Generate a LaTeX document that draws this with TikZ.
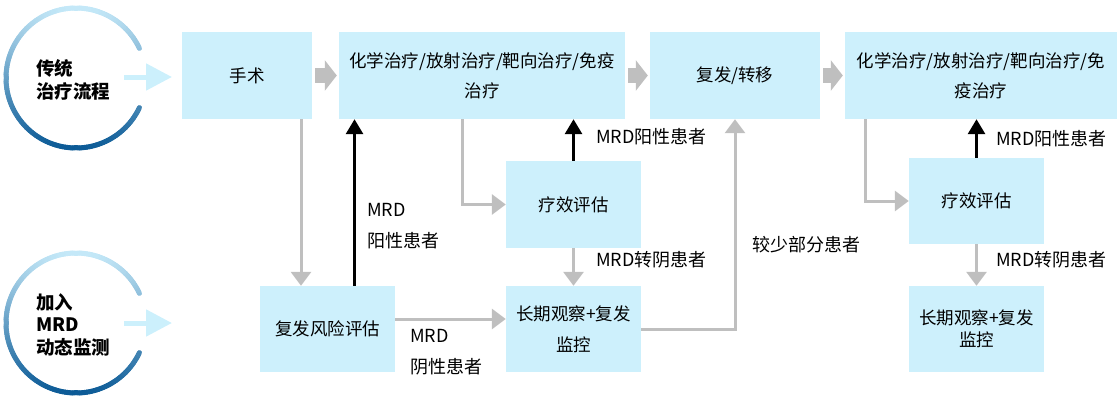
\documentclass[tikz,border=0pt]{standalone}
\usepackage{fontspec}
\setmainfont{Noto Sans CJK SC}
\usepackage[HTML]{xcolor}
\usepackage{tikz}
\usetikzlibrary{positioning, arrows.meta}
\definecolor{boxcyan}{HTML}{CDF0FC}
\definecolor{flowgray}{HTML}{BFBFBF}
\definecolor{ringlight}{HTML}{C4E8F8}
\definecolor{ringdark}{HTML}{0B5A96}
\definecolor{inarrow}{HTML}{CCF0FC}

\begin{document}
\begin{tikzpicture}[x=1pt,y=-1pt,
box/.style={fill=boxcyan,minimum width=135pt,minimum height=86pt,inner sep=0pt,align=center,font=\fontsize{17.5}{30}\selectfont},
grayflow/.style={flowgray,line width=3pt,-{Triangle[width=20pt,length=14pt]}},
blackflow/.style={black,line width=3pt,-{Triangle[width=17pt,length=15pt]}},
blockarrow/.style={flowgray,line width=15pt,-{Triangle[width=30pt,length=12pt]},shorten <=3pt,shorten >=2pt},
inflow/.style={inarrow,line width=5pt,-{Triangle[width=26pt,length=26pt]}},
lbl/.style={anchor=west,align=left,inner sep=0pt,font=\fontsize{18}{31}\selectfont},
ringtext/.style={anchor=west,align=left,inner sep=0pt,font=\fontsize{18.5}{23}\selectfont\bfseries}]
\useasboundingbox (0,0) rectangle (1118,396);
\foreach \cy in {78,323}{
\foreach \a in {25,27,...,333}{
\pgfmathtruncatemacro\p{50-50*sin(\a+1)}
\draw[ringdark!\p!ringlight,line width=5pt,line cap=round] ({76+70*cos(\a)},{\cy-70*sin(\a)})--({76+70*cos(\a+2)},{\cy-70*sin(\a+2)});
}
}
\node[ringtext] (tradText) at (36,79.5) {传统\\治疗流程};
\node[ringtext,font=\fontsize{18.5}{22.5}\selectfont\bfseries] (mrdText) at (36,324.5) {加入\\MRD\\动态监测};
\coordinate (tradIn) at (124,77);
\coordinate (tradOut) at (172,77);
\coordinate (mrdIn) at (124,323);
\coordinate (mrdOut) at (172,323);
\draw[inflow] (tradIn)--(tradOut);
\draw[inflow] (mrdIn)--(mrdOut);

\node[box,minimum width=130pt,minimum height=87pt] (surg) at (247,75.5) {手术};
\node[box,minimum width=286pt,minimum height=87pt] (chemoA) at (482,75.5) {化学治疗/放射治疗/靶向治疗/免疫\\治疗};
\node[box,minimum width=170pt,minimum height=87pt] (relapse) at (735,75.5) {复发/转移};
\node[box,minimum width=272pt,minimum height=87pt] (chemoB) at (981,75.5) {化学治疗/放射治疗/靶向治疗/免\\疫治疗};
\node[box] (risk) at (327.5,329) {复发风险评估};
\node[box,minimum height=87pt] (evalA) at (573.5,204.5) {疗效评估};
\node[box,font=\fontsize{17.5}{31}\selectfont] (watchA) at (573.5,329) {长期观察+复发\\监控};
\node[box] (evalB) at (976.5,201) {疗效评估};
\node[box,font=\fontsize{17.5}{22}\selectfont] (watchB) at (976.5,329) {长期观察+复发\\监控};

\draw[blockarrow] (surg)--(chemoA);
\draw[blockarrow] (chemoA)--(relapse);
\draw[blockarrow] (relapse)--(chemoB);
\draw[grayflow] ([xshift=54pt]surg.south)--([xshift=54pt]surg.south |- risk.north);
\draw[blackflow] ([xshift=27pt]risk.north)--([xshift=27pt]risk.north |- chemoA.south);
\draw[grayflow] ([xshift=-20pt]chemoA.south) |- (evalA.west);
\draw[blackflow] (evalA.north)--(evalA.north |- chemoA.south);
\draw[grayflow] (evalA.south)--(watchA.north);
\draw[grayflow] ([yshift=10pt]risk.east)--([yshift=10pt]risk.east -| watchA.west);
\draw[grayflow] (watchA.east) -| (relapse.south);
\draw[grayflow] ([xshift=-116pt]chemoB.south) |- (evalB.west);
\draw[blackflow] (evalB.north)--(evalB.north |- chemoB.south);
\draw[grayflow] (evalB.south)--(watchB.north);

\node[lbl] (posRisk) at (367,226.5) {MRD\\阳性患者};
\node[lbl] (posA) at (596,137) {MRD阳性患者};
\node[lbl] (negA) at (596,260) {MRD转阴患者};
\node[lbl] (negRisk) at (410,352.5) {MRD\\阴性患者};
\node[lbl] (few) at (752,245) {较少部分患者};
\node[lbl] (posB) at (996,139) {MRD阳性患者};
\node[lbl] (negB) at (996,260) {MRD转阴患者};
\end{tikzpicture}
\end{document}
